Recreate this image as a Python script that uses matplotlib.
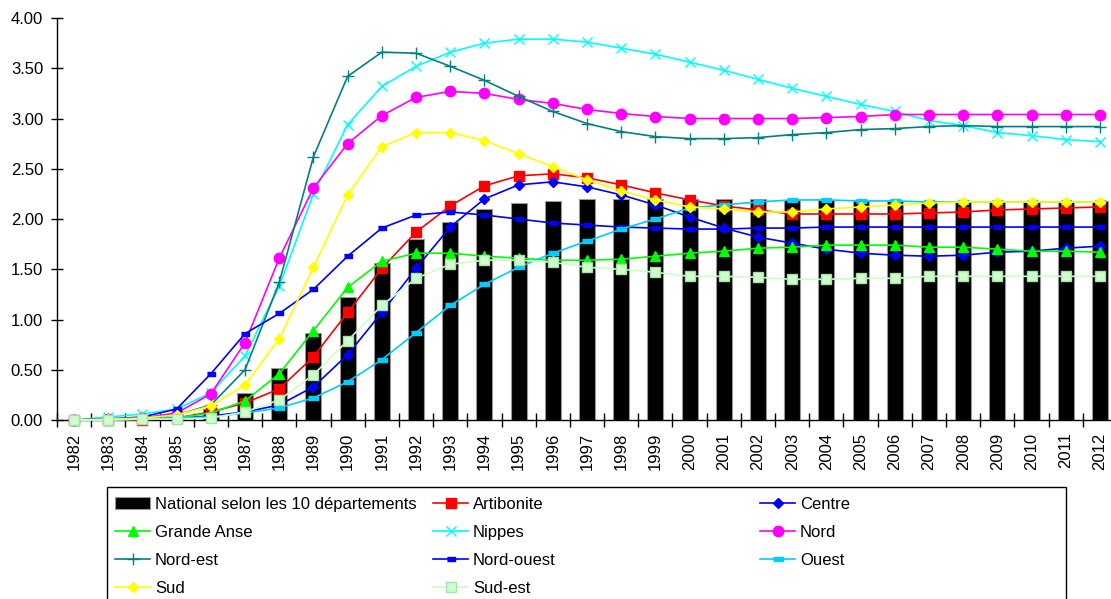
import numpy as np
import matplotlib
matplotlib.use("Agg")
import matplotlib.pyplot as plt
from matplotlib.patches import Rectangle

plt.rcParams['font.family'] = ['Liberation Sans', 'DejaVu Sans']
plt.rcParams['font.size'] = 12

# data
years = [str(y) for y in range(1982, 2013)]
national = [0, 0, 0, 0.02, 0.11, 0.27, 0.52, 0.87, 1.22, 1.56, 1.80, 1.97, 2.10, 2.16, 2.18, 2.20,
            2.20, 2.20, 2.20, 2.20, 2.20, 2.19, 2.19, 2.18, 2.18, 2.18, 2.18, 2.18, 2.18, 2.18, 2.18]
artibonite = [0, 0, 0, 0.02, 0.08, 0.17, 0.31, 0.63, 1.07, 1.51, 1.87, 2.13, 2.33, 2.43, 2.45, 2.41,
              2.34, 2.26, 2.19, 2.13, 2.09, 2.05, 2.05, 2.05, 2.05, 2.06, 2.07, 2.09, 2.10, 2.11, 2.12]
centre = [0, 0, 0.01, 0.02, 0.04, 0.08, 0.15, 0.33, 0.65, 1.07, 1.51, 1.92, 2.20, 2.34, 2.37, 2.32,
          2.24, 2.14, 2.02, 1.91, 1.82, 1.76, 1.70, 1.66, 1.64, 1.63, 1.64, 1.67, 1.68, 1.71, 1.73]
grande_anse = [0, 0, 0.01, 0.02, 0.07, 0.19, 0.46, 0.89, 1.32, 1.58, 1.66, 1.66, 1.63, 1.61, 1.59, 1.59,
               1.60, 1.63, 1.66, 1.68, 1.71, 1.72, 1.74, 1.74, 1.74, 1.72, 1.72, 1.70, 1.68, 1.68, 1.67]
nippes = [0, 0.03, 0.06, 0.11, 0.27, 0.64, 1.33, 2.25, 2.94, 3.32, 3.52, 3.66, 3.75, 3.79, 3.79, 3.76,
          3.70, 3.64, 3.56, 3.48, 3.39, 3.30, 3.22, 3.14, 3.07, 2.98, 2.93, 2.86, 2.83, 2.79, 2.77]
nord = [0, 0.01, 0.02, 0.07, 0.26, 0.77, 1.61, 2.31, 2.75, 3.03, 3.21, 3.27, 3.25, 3.19, 3.15, 3.09,
        3.05, 3.02, 3.00, 3.00, 3.00, 3.00, 3.01, 3.02, 3.04, 3.04, 3.04, 3.04, 3.04, 3.04, 3.04]
nord_est = [0, 0.01, 0.02, 0.05, 0.15, 0.50, 1.37, 2.62, 3.42, 3.66, 3.65, 3.52, 3.38, 3.22, 3.07, 2.95,
            2.87, 2.82, 2.80, 2.80, 2.81, 2.84, 2.86, 2.89, 2.90, 2.92, 2.93, 2.92, 2.92, 2.92, 2.92]
nord_ouest = [0, 0.01, 0.03, 0.11, 0.46, 0.86, 1.06, 1.30, 1.63, 1.91, 2.04, 2.07, 2.04, 2.00, 1.96, 1.94,
              1.92, 1.91, 1.90, 1.90, 1.91, 1.91, 1.92, 1.92, 1.92, 1.92, 1.92, 1.92, 1.92, 1.92, 1.92]
ouest = [0, 0, 0.01, 0.02, 0.03, 0.07, 0.12, 0.22, 0.38, 0.60, 0.87, 1.14, 1.35, 1.52, 1.66, 1.78,
         1.90, 2.00, 2.11, 2.14, 2.17, 2.19, 2.19, 2.18, 2.18, 2.17, 2.17, 2.17, 2.17, 2.17, 2.17]
sud = [0, 0.01, 0.02, 0.05, 0.14, 0.35, 0.81, 1.52, 2.24, 2.72, 2.86, 2.86, 2.78, 2.65, 2.52, 2.39,
       2.28, 2.19, 2.12, 2.10, 2.07, 2.07, 2.10, 2.12, 2.14, 2.16, 2.17, 2.17, 2.17, 2.17, 2.17]
sud_est = [0, 0, 0.01, 0.01, 0.02, 0.08, 0.20, 0.45, 0.79, 1.14, 1.41, 1.55, 1.59, 1.59, 1.57, 1.52,
           1.50, 1.47, 1.43, 1.43, 1.42, 1.40, 1.40, 1.41, 1.41, 1.43, 1.43, 1.43, 1.43, 1.43, 1.43]

dash = [(-1, -0.4), (1, -0.4), (1, 0.4), (-1, 0.4)]

# label, values, color, marker, size, face
series = [
    ("Artibonite", artibonite, "#FF0000", "s", 7, "#FF0000"),
    ("Centre", centre, "#0000FF", "D", 5, "#0000FF"),
    ("Grande Anse", grande_anse, "#00FF00", "^", 7, "#00FF00"),
    ("Nippes", nippes, "#00FFFF", "x", 7, "#00FFFF"),
    ("Nord", nord, "#FF00FF", "o", 7.5, "#FF00FF"),
    ("Nord-est", nord_est, "#008080", "+", 8, "#008080"),
    ("Nord-ouest", nord_ouest, "#0000FF", dash, 6, "#0000FF"),
    ("Ouest", ouest, "#00CCFF", dash, 7.5, "#00CCFF"),
    ("Sud", sud, "#FFFF00", "D", 5.5, "#FFFF00"),
    ("Sud-est", sud_est, "#CCFFCC", "s", 7, "#CCFFCC"),
]

fig = plt.figure(figsize=(11.11, 5.99), dpi=100)
ax = fig.add_axes([0.0513, 0.2988, 0.9541, 0.6711])

x = np.arange(len(years))
handles = {}
handles["National selon les 10 départements"] = ax.bar(
    x, national, width=0.47, color="black", edgecolor="#999999", linewidth=0.8, zorder=2)

for label, vals, col, mk, ms, face in series:
    edge = "#A8E0A8" if label == "Sud-est" else col
    line, = ax.plot(x, vals, color=col, linewidth=1.2, marker=mk, markersize=ms,
                    markerfacecolor=face, markeredgecolor=edge, markeredgewidth=1.0,
                    clip_on=False, zorder=3)
    handles[label] = line

ax.set_xlim(-0.5, len(years) - 0.5)
ax.set_ylim(0, 4)
ax.set_yticks(np.arange(0, 4.01, 0.5))
ax.set_yticklabels([f"{v:.2f}" for v in np.arange(0, 4.01, 0.5)])

# category borders as ticks, labels centered in between
ax.set_xticks(np.arange(-0.5, len(years), 1))
ax.set_xticklabels([])
ax.set_xticks(x, years, minor=True, rotation=90)
ax.tick_params(axis='x', which='major', direction='inout', length=10, width=1)
ax.tick_params(axis='x', which='minor', length=0, pad=9)
ax.tick_params(axis='y', direction='inout', length=8, width=1, pad=6)

ax.spines['top'].set_visible(False)
ax.spines['right'].set_visible(False)
ax.spines['left'].set_linewidth(1)
ax.spines['bottom'].set_linewidth(1)

# legend frame and three columns
fig.patches.append(Rectangle((107 / 1111, 1 - 615 / 599), (1066 - 107) / 1111, (615 - 487) / 599,
                             transform=fig.transFigure, fill=False, edgecolor="black",
                             linewidth=1, clip_on=False))
columns = [
    (115, ["National selon les 10 départements", "Grande Anse", "Nord-est", "Sud"]),
    (433, ["Artibonite", "Nippes", "Nord-ouest", "Sud-est"]),
    (760, ["Centre", "Nord", "Ouest"]),
]
for xpix, labels in columns:
    fig.legend([handles[l] for l in labels], labels, loc='upper left',
               bbox_to_anchor=(xpix / 1111, 1 - 497 / 599), frameon=False,
               borderpad=0, borderaxespad=0, handlelength=2.1, handletextpad=0.3,
               labelspacing=0.78, fontsize=12)

plt.savefig("out.png", dpi=100)
